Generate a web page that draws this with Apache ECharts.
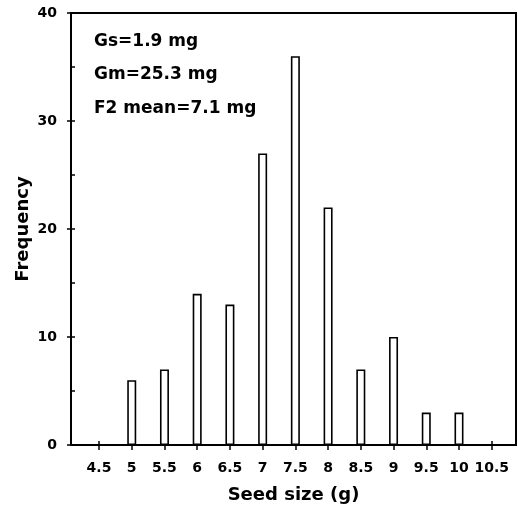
<!DOCTYPE html>
<html>
<head>
<meta charset="utf-8">
<script src="https://cdn.jsdelivr.net/npm/echarts@6/dist/echarts.min.js"></script>
<style>
  html, body { margin: 0; padding: 0; background: #fff; }
  #chart { width: 518px; height: 509px; }
</style>
</head>
<body>
<div id="chart"></div>
<script>
// seed size classes (g) and how many plants fell in each
var seedSizes = [4.5, 5, 5.5, 6, 6.5, 7, 7.5, 8, 8.5, 9, 9.5, 10, 10.5];
var frequency = [0, 6, 7, 14, 13, 27, 36, 22, 7, 10, 3, 3, 0];
var xTicks = [4.5, 5, 5.5, 6, 6.5, 7, 7.5, 8, 8.5, 9, 9.5, 10, 10.5];
var notes = ['Gs=1.9 mg', 'Gm=25.3 mg', 'F2 mean=7.1 mg'];

var font = 'DejaVu Sans';
var chart = echarts.init(document.getElementById('chart'));

var barData = seedSizes.map(function (s, i) { return [s, frequency[i]]; });

chart.setOption({
  animation: false,
  backgroundColor: '#fff',
  grid: {
    left: 71, right: 2, top: 13, bottom: 63,
    show: true, borderColor: '#000', borderWidth: 2
  },
  xAxis: [{
    type: 'value',
    min: 4.072, max: 10.871,
    name: 'Seed size (g)',
    nameLocation: 'middle',
    nameGap: 41,
    nameMoveOverlap: false,
    nameTextStyle: { fontFamily: font, fontWeight: 'bold', fontSize: 18, color: '#000' },
    axisLine: { show: true, lineStyle: { color: '#000', width: 2 } },
    axisTick: { show: true, length: 5, customValues: xTicks, lineStyle: { color: '#000', width: 1.5 } },
    axisLabel: {
      customValues: xTicks, margin: 16,
      fontFamily: font, fontWeight: 'bold', fontSize: 14, color: '#000',
      formatter: function (v) { return String(v); }
    },
    splitLine: { show: false }
  }, {
    type: 'value',
    min: 4.072, max: 10.871,
    position: 'bottom',
    axisLine: { show: false },
    axisTick: { show: true, inside: true, length: 4, customValues: xTicks, lineStyle: { color: '#000', width: 1.5 } },
    axisLabel: { show: false },
    splitLine: { show: false }
  }],
  yAxis: [{
    type: 'value',
    min: 0, max: 40, interval: 10,
    name: 'Frequency',
    nameLocation: 'middle',
    nameGap: 39,
    nameMoveOverlap: false,
    nameTextStyle: { fontFamily: font, fontWeight: 'bold', fontSize: 18, color: '#000' },
    axisLine: { show: true, lineStyle: { color: '#000', width: 2 } },
    axisTick: { show: true, length: 4, lineStyle: { color: '#000', width: 1.5 } },
    axisLabel: { margin: 14, fontFamily: font, fontWeight: 'bold', fontSize: 14, color: '#000' },
    splitLine: { show: false }
  }, {
    type: 'value',
    min: 0, max: 40, interval: 5,
    position: 'left',
    axisLine: { show: false },
    axisTick: { show: true, inside: true, length: 4, lineStyle: { color: '#000', width: 1.5 } },
    axisLabel: { show: false },
    splitLine: { show: false }
  }],
  graphic: notes.map(function (t, i) {
    return {
      type: 'text',
      left: 94,
      top: 33 + i * 33.5,
      style: { text: t, fontFamily: font, fontWeight: 'bold', fontSize: 17, fill: '#000' }
    };
  }),
  series: [{
    type: 'bar',
    xAxisIndex: 0,
    yAxisIndex: 0,
    data: barData,
    barWidth: 9,
    itemStyle: { color: '#fff', borderColor: '#000', borderWidth: 1.6 }
  }]
});
</script>
</body>
</html>
